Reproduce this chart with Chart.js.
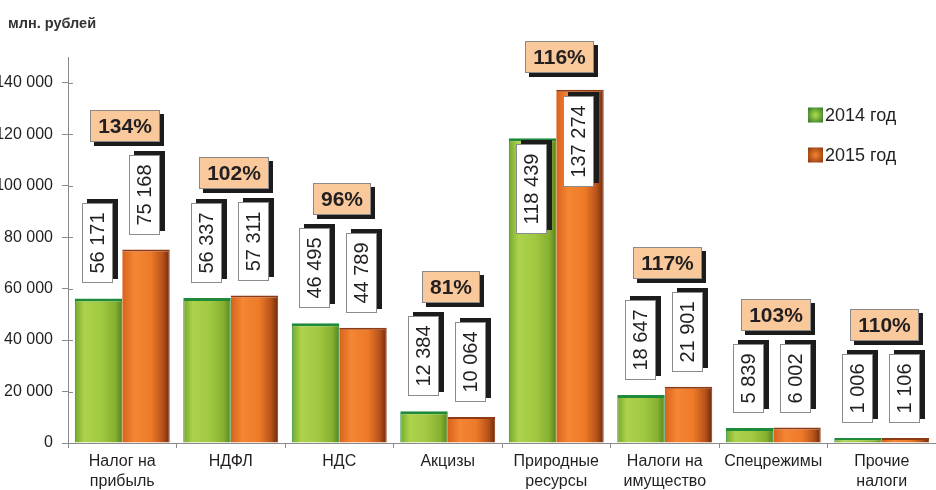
<!DOCTYPE html>
<html>
<head>
<meta charset="utf-8">
<script src="https://cdn.jsdelivr.net/npm/chart.js@4/dist/chart.umd.min.js"></script>
<style>
  html, body { margin: 0; padding: 0; background: #ffffff; }
  #wrap { position: relative; width: 936px; height: 490px; }
</style>
</head>
<body>
<div id="wrap"><canvas id="c"></canvas></div>
<script>
const CATEGORIES = [
  ['Налог на', 'прибыль'], 'НДФЛ', 'НДС', 'Акцизы',
  ['Природные', 'ресурсы'], ['Налоги на', 'имущество'], 'Спецрежимы', ['Прочие', 'налоги']
];
const SERIES_NAMES = ['2014 год', '2015 год'];
const VALUES_2014 = [56171, 56337, 46495, 12384, 118439, 18647, 5839, 1006];
const VALUES_2015 = [75168, 57311, 44789, 10064, 137274, 21901, 6002, 1106];
const GROWTH_PCT = [134, 102, 96, 81, 116, 117, 103, 110];
const Y_TICKS = [0, 20000, 40000, 60000, 80000, 100000, 120000, 140000];
const Y_UNIT_LABEL = 'млн. рублей';

const FONT = '"Liberation Sans", Arial, Helvetica, sans-serif';
const CAT_PCT = 0.875;

function fmt(v) {
  return String(v).replace(/\B(?=(\d{3})+(?!\d))/g, ' ');
}

function barFill(ctx) {
  const chart = ctx.chart;
  const green = ctx.datasetIndex === 0;
  if (!chart.chartArea || !chart.scales.x) return green ? '#98C03A' : '#EE7A2A';
  const xs = chart.scales.x;
  const c = xs.getPixelForValue(ctx.dataIndex);
  const w = xs.width / CATEGORIES.length * CAT_PCT / 2;
  const x0 = green ? c - w : c;
  const g = chart.ctx.createLinearGradient(x0, 0, x0 + w, 0);
  if (green) {
    g.addColorStop(0, '#74A82C');
    g.addColorStop(0.2, '#ADD24C');
    g.addColorStop(0.55, '#A2C942');
    g.addColorStop(0.85, '#86B030');
    g.addColorStop(1, '#55851E');
  } else {
    g.addColorStop(0, '#D8621C');
    g.addColorStop(0.25, '#F48634');
    g.addColorStop(0.6, '#EE7A28');
    g.addColorStop(0.85, '#B8521A');
    g.addColorStop(1, '#6E2A0C');
  }
  return g;
}

const labelPlugin = {
  id: 'labelPlugin',
  afterDatasetsDraw(chart) {
    const ctx = chart.ctx;
    const area = chart.chartArea;
    const m0 = chart.getDatasetMeta(0);
    const m1 = chart.getDatasetMeta(1);
    ctx.save();
    // y tick marks crossing into the plot
    const ys = chart.scales.y;
    ctx.strokeStyle = '#8a8a8a';
    ctx.lineWidth = 1;
    Y_TICKS.forEach(v => {
      const y = Math.round(ys.getPixelForValue(v)) + 0.5;
      ctx.beginPath();
      ctx.moveTo(area.left, y);
      ctx.lineTo(area.left + 5, y);
      ctx.stroke();
    });
    for (let i = 0; i < CATEGORIES.length; i++) {
      let topMost = Infinity;
      let inside = false;
      [m0, m1].forEach((meta, d) => {
        const el = meta.data[i];
        const val = chart.data.datasets[d].data[i];
        const txt = fmt(val);
        ctx.font = '20px ' + FONT;
        const tw = ctx.measureText(txt).width;
        const bw = 31, bh = Math.round(tw + 19);
        let boxTop = el.y - 15 - bh;
        if (boxTop - 5 < area.top) { boxTop = el.y + 6; inside = true; }
        const bx = Math.round(el.x - bw / 2 - 1);
        const by = Math.round(boxTop);
        ctx.fillStyle = '#1c1c1c';
        ctx.fillRect(bx + 5, by - 4, bw, bh);
        ctx.fillStyle = '#ffffff';
        ctx.fillRect(bx, by, bw, bh);
        ctx.strokeStyle = '#8c8c8c';
        ctx.lineWidth = 1;
        ctx.strokeRect(bx + 0.5, by + 0.5, bw - 1, bh - 1);
        ctx.save();
        ctx.translate(bx + bw / 2, by + bh / 2);
        ctx.rotate(-Math.PI / 2);
        ctx.fillStyle = '#231f20';
        ctx.textAlign = 'center';
        ctx.textBaseline = 'middle';
        ctx.fillText(txt, 0, 1);
        ctx.restore();
        topMost = Math.min(topMost, by - 4, el.y);
      });
      const pct = GROWTH_PCT[i] + '%';
      ctx.font = 'bold 21px ' + FONT;
      const pw = Math.round(ctx.measureText(pct).width + 16);
      const ph = 32;
      const cx = chart.scales.x.getPixelForValue(i) + 3;
      const gap = inside ? 17 : 9;
      const px = Math.round(cx - pw / 2);
      const py = Math.round(topMost - gap - ph);
      ctx.fillStyle = '#1c1c1c';
      ctx.fillRect(px + 4, py + 4, pw, ph);
      ctx.fillStyle = '#F9C99C';
      ctx.fillRect(px, py, pw, ph);
      ctx.strokeStyle = '#8a8a8a';
      ctx.lineWidth = 1;
      ctx.strokeRect(px + 0.5, py + 0.5, pw - 1, ph - 1);
      ctx.fillStyle = '#231f20';
      ctx.textAlign = 'center';
      ctx.textBaseline = 'middle';
      ctx.fillText(pct, px + pw / 2, py + ph / 2 + 1);
    }
    const legendY = [115, 155];
    const sw = [['#2E7A26', '#A8D24A'], ['#8A3A12', '#F07A2A']];
    SERIES_NAMES.forEach((name, d) => {
      const y = legendY[d];
      const x = 808;
      const g = ctx.createRadialGradient(x + 7.5, y, 1, x + 7.5, y, 10);
      g.addColorStop(0, sw[d][1]);
      g.addColorStop(1, sw[d][0]);
      ctx.fillStyle = g;
      ctx.fillRect(x, y - 7.5, 15, 15);
      ctx.fillStyle = '#231f20';
      ctx.font = '18px ' + FONT;
      ctx.textAlign = 'left';
      ctx.textBaseline = 'middle';
      ctx.fillText(name, x + 17, y + 1);
    });
    ctx.font = 'bold 14.5px ' + FONT;
    ctx.fillStyle = '#333333';
    ctx.textAlign = 'left';
    ctx.textBaseline = 'alphabetic';
    ctx.fillText(Y_UNIT_LABEL, 8, 28);
    ctx.restore();
  }
};

new Chart(document.getElementById('c'), {
  type: 'bar',
  data: {
    labels: CATEGORIES,
    datasets: [
      {
        label: SERIES_NAMES[0],
        data: VALUES_2014,
        backgroundColor: barFill,
        borderColor: '#1E8A3A',
        borderWidth: { top: 3, left: 1, right: 1, bottom: 0 },
        borderSkipped: 'start',
        minBarLength: 5
      },
      {
        label: SERIES_NAMES[1],
        data: VALUES_2015,
        backgroundColor: barFill,
        borderColor: '#8E3A12',
        borderWidth: { top: 2, left: 0, right: 1, bottom: 0 },
        borderSkipped: 'start',
        minBarLength: 5
      }
    ]
  },
  options: {
    responsive: true,
    maintainAspectRatio: false,
    devicePixelRatio: 1,
    animation: false,
    layout: { padding: { top: 57, left: 0, right: 0, bottom: 0 } },
    datasets: { bar: { barPercentage: 1, categoryPercentage: CAT_PCT } },
    plugins: { legend: { display: false }, tooltip: { enabled: false }, title: { display: false } },
    scales: {
      x: {
        grid: { display: true, drawOnChartArea: false, offset: true, tickLength: 5, color: '#8a8a8a' },
        border: { color: '#8a8a8a', width: 1 },
        ticks: { font: { size: 16, family: FONT, lineHeight: 1.25 }, color: '#231f20', padding: 4, maxRotation: 0, autoSkip: false },
        afterFit: s => { s.height = 47; }
      },
      y: {
        min: 0,
        max: 150000,
        grid: { display: true, drawOnChartArea: false, tickLength: 6, color: '#8a8a8a' },
        border: { color: '#8a8a8a', width: 1 },
        ticks: { callback: v => fmt(v), font: { size: 16, family: FONT }, color: '#231f20', padding: 9 },
        afterBuildTicks: s => { s.ticks = Y_TICKS.map(v => ({ value: v })); },
        afterFit: s => { s.width = 68; }
      }
    }
  },
  plugins: [labelPlugin]
});
</script>
</body>
</html>
